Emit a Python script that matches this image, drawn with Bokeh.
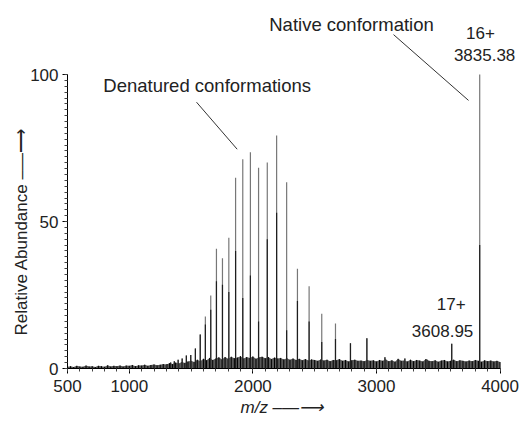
import math
from bokeh.plotting import figure
from bokeh.models import FixedTicker, Label, ColumnDataSource, Range1d, Title
from bokeh.embed import file_html
from bokeh.resources import INLINE

# ---- data ----
charge = [47, 46, 45, 44, 43, 42, 41, 40, 39, 38, 37, 36, 35, 34, 33, 32,
          31, 30, 29, 28, 27, 26, 25, 24, 23, 22, 21, 20, 19, 18, 17, 16]
peak_mz = [1306.3, 1334.7, 1364.3, 1395.3, 1427.8, 1461.7, 1497.3, 1534.8,
           1574.1, 1615.5, 1659.1, 1705.2, 1753.9, 1805.4, 1860.1, 1918.2,
           1980.0, 2046.0, 2116.5, 2192.1, 2273.2, 2360.6, 2455.0, 2557.3,
           2668.4, 2789.6, 2922.4, 3068.5, 3229.9, 3409.3, 3608.95, 3835.38]
peak_height = [1.5, 2.0, 2.5, 3.0, 3.4, 4.4, 4.6, 6.8,
               11.6, 17.7, 24.8, 40.7, 37.5, 44.5, 64.9, 71.2,
               73.6, 68.3, 70.1, 79.3, 63.4, 33.9, 28.0, 18.6,
               15.3, 8.6, 10.3, 3.8, 3.4, 3.0, 8.4, 100.0]
peak_core = [1.5, 2.0, 2.5, 3.0, 3.4, 4.4, 4.6, 6.8,
             11.6, 15.0, 20.0, 29.7, 28.5, 26.0, 40.0, 24.0,
             31.6, 16.0, 44.0, 53.0, 13.0, 23.0, 16.0, 9.0,
             10.0, 8.6, 10.3, 3.8, 3.4, 3.0, 8.4, 42.0]

noise_mz = list(range(500, 4001, 25))
noise_height = [0.6, 0.8, 0.5, 0.9, 0.7, 0.6, 1.0, 0.7, 0.8, 0.5, 0.9, 0.8, 0.6, 1.1, 0.7, 0.9, 0.8, 1.0, 0.7, 1.0,
                0.9, 1.2, 0.8, 1.1, 1.0, 1.3, 0.9, 1.2, 1.4, 1.1, 1.3, 1.5,
                1.4, 1.8, 1.5, 2.0, 1.7, 2.2, 1.9, 2.4,
                2.6, 2.2, 3.0, 2.5, 3.3, 2.8, 3.6, 2.9, 3.4, 3.8, 3.1, 3.9, 3.3, 4.0, 3.5, 3.7, 4.2, 3.4, 3.9, 3.6,
                4.1, 3.3, 3.8, 4.0, 3.5, 3.9, 3.2, 3.7, 3.4, 3.6, 3.1, 3.5, 3.0, 3.4, 2.9, 3.3, 2.8, 3.2, 2.7, 3.1,
                2.9, 2.6, 3.1, 2.7, 3.0, 2.5, 2.9, 2.8, 3.2, 2.6, 2.9, 2.4, 2.8, 3.0, 2.6, 2.7, 2.5, 2.9, 2.6, 2.8,
                2.4, 2.9, 2.6, 3.1, 2.5, 2.8, 2.3, 3.3, 2.6, 2.7, 2.4, 3.0, 2.5, 2.9, 2.7, 2.4, 3.2, 2.6, 2.5, 2.8,
                2.3, 2.7, 2.9, 2.4, 2.6, 3.0, 2.5, 2.8, 2.6, 2.4, 2.7, 2.5, 2.9, 2.6, 2.3, 2.8, 2.5, 2.7, 2.4, 2.6, 2.2]

x_ticks = [500, 1000, 2000, 3000, 4000]
y_ticks = [0, 50, 100]

FONT = "Liberation Sans"

peaks = ColumnDataSource(dict(mz=peak_mz, h=peak_height, core=peak_core, zero=[0] * len(peak_mz)))
noise = ColumnDataSource(dict(mz=noise_mz, h=noise_height, zero=[0] * len(noise_mz)))

p = figure(width=521, height=421, output_backend="svg", toolbar_location=None,
           x_range=Range1d(500, 4125), y_range=Range1d(0, 125.2),
           min_border_left=67, min_border_right=6, min_border_top=0, min_border_bottom=53)
p.outline_line_color = None
p.grid.visible = False
p.background_fill_color = "white"
p.border_fill_color = "white"

# noise band
p.varea(x="mz", y1="zero", y2="h", source=noise, fill_color="#222222", fill_alpha=0.75)
p.segment(x0="mz", y0="zero", x1="mz", y1="h", source=noise, line_color="black", line_width=1)

# peaks
p.segment(x0="mz", y0="zero", x1="mz", y1="h", source=peaks, line_color="#777777", line_width=1.2)
p.segment(x0="mz", y0="zero", x1="mz", y1="core", source=peaks, line_color="#1e1e1e", line_width=1.2)

# axes
xa = p.xaxis[0]
xa.ticker = FixedTicker(ticks=x_ticks, minor_ticks=list(range(500, 4001, 100)))
xa.bounds = (500, 4000)
ya = p.yaxis[0]
ya.ticker = FixedTicker(ticks=y_ticks, minor_ticks=list(range(0, 101, 2)))
ya.bounds = (0, 100)
for ax in (xa, ya):
    ax.axis_line_color = "black"
    ax.axis_line_width = 1
    ax.major_tick_in = 0
    ax.major_tick_out = 5
    ax.minor_tick_in = 0
    ax.minor_tick_out = 3
    ax.major_tick_line_color = "black"
    ax.minor_tick_line_color = "#444444"
    ax.major_label_text_font = FONT
    ax.major_label_text_font_size = "17px"
    ax.major_label_text_color = "#222222"
xa.major_label_standoff = 6
ya.major_label_standoff = 4

def lab(x, y, text, size="18px", angle=0.0, style="normal"):
    p.add_layout(Label(x=x, y=y, text=text, text_align="center", text_baseline="middle",
                       text_font=FONT, text_font_size=size, text_color="#222222",
                       angle=angle, text_font_style=style))

# annotations
lab(1630, 96.3, "Denatured conformations", size="18.5px")
p.segment(x0=[1544], y0=[90.6], x1=[1873], y1=[74.6], line_color="#333333", line_width=1)
lab(2798, 117.0, "Native conformation", size="18.5px")
p.segment(x0=[3138], y0=[113.6], x1=[3745], y1=[91.2], line_color="#333333", line_width=1)
lab(3842, 114.3, "16+", size="17px")
lab(3875, 106.5, "3835.38", size="17px")
lab(3605, 21.8, "17+", size="17px")
lab(3535, 12.9, "3608.95", size="17px")

# axis titles
p.add_layout(Title(text="Relative Abundance \u2013\u2014\u27F6", align="left", offset=33,
                   text_font=FONT, text_font_size="17px", text_font_style="normal",
                   text_color="#222222", standoff=-7), "left")
p.add_layout(Title(text="m/z \u2013\u2014\u27F6", align="left", offset=173,
                   text_font=FONT, text_font_size="17px", text_font_style="italic",
                   text_color="#222222", standoff=3), "below")

open("out.html", "w").write(file_html(p, INLINE))
